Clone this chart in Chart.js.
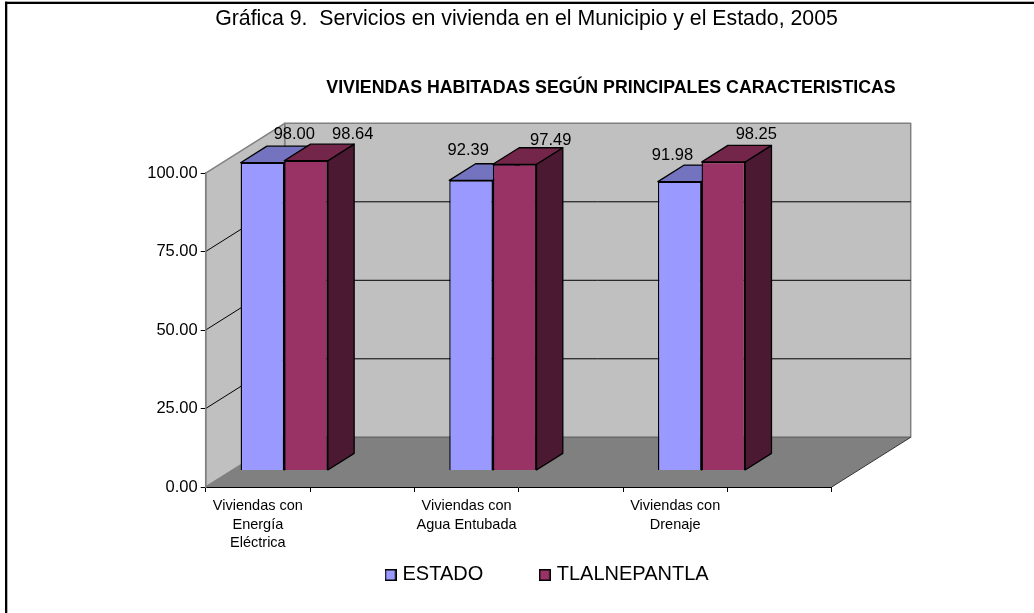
<!DOCTYPE html>
<html><head><meta charset="utf-8">
<style>html,body{margin:0;padding:0;background:#fff}canvas{display:block}</style>
<script src="https://cdn.jsdelivr.net/npm/chart.js@4"></script>
</head><body>
<div style="width:1034px;height:613px"><canvas id="c" width="1034" height="613"></canvas></div>
<script>
const categories = [["Viviendas con","Energía","Eléctrica"],"",["Viviendas con","Agua Entubada"],"",["Viviendas con","Drenaje"],""];
const estado = [98.00,null,92.39,null,91.98,null];
const tlalnepantla = [98.64,null,97.49,null,98.25,null];
const seriesNames = ["ESTADO","TLALNEPANTLA"];
const seriesColors = ["#9999FF","#993366"];
const titleText = "Gráfica 9.  Servicios en vivienda en el Municipio y el Estado, 2005";
const subtitleText = "VIVIENDAS HABITADAS SEGÚN PRINCIPALES CARACTERISTICAS";

const FONT = "'Liberation Sans', Arial, sans-serif";
const WALL_DX = 79, WALL_DY = -49.7;
const BAR_DX = WALL_DX/3, BAR_DY = WALL_DY/3;
// manual label placement, as in the original (offset from the bar's rear top edge)
const labelNudge = [
  [[5.6,-7.6],null,[-29.2,-8.5],null,[-33.6,-4.8],null],
  [[20.4,-5.6],null,[9.7,-3.2],null,[6.6,-5.9],null]
];
const faceColors = [
  {top:"#7373BF", side:"#4D4D80"},
  {top:"#732649", side:"#4C1933"}
];
function legendMarker(color){
  const m=document.createElement("canvas");m.width=12;m.height=14;
  const g=m.getContext("2d");
  g.fillStyle=color;g.fillRect(0,2,12,12);
  g.strokeStyle="#000";g.lineWidth=1.5;g.strokeRect(.75,2.75,10.5,10.5);
  return m;
}
const legendMarkers = seriesColors.map(legendMarker);
function poly(ctx,pts,fill,stroke,lw){
  ctx.beginPath();
  pts.forEach((p,i)=> i?ctx.lineTo(p[0],p[1]):ctx.moveTo(p[0],p[1]));
  ctx.closePath();
  if(fill){ctx.fillStyle=fill;ctx.fill();}
  if(stroke){ctx.strokeStyle=stroke;ctx.lineWidth=lw||1;ctx.lineJoin="round";ctx.stroke();}
}
const scene = {
  id:"scene",
  afterLayout(chart){
    chart.boxes.forEach(b=>{
      if(b.options && b.options.text===titleText){b.left=526.5-520;b.right=526.5+520;}
      if(b.options && b.options.text===subtitleText){b.left=611-420;b.right=611+420;}
    });
    const lg=chart.legend;
    if(lg){const p=lg.options.labels.padding;lg.left=388.5-p;lg.right=388.5-p+500;lg.top=574-10-p;}
  },
  beforeDraw(chart){
    const {ctx,scales:{x,y}}=chart;
    const L=x.left,R=x.right,B=y.getPixelForValue(0),T=y.getPixelForValue(100);
    ctx.save();
    ctx.fillStyle="#000";
    ctx.fillRect(5,1.7,1029,2.3);
    ctx.fillRect(5,1.7,2.3,611.3);
    const dx=WALL_DX,dy=WALL_DY;
    poly(ctx,[[L+dx,T+dy],[R+dx,T+dy],[R+dx,B+dy],[L+dx,B+dy]],"#C0C0C0","#808080",1.5);
    poly(ctx,[[L,T],[L+dx,T+dy],[L+dx,B+dy],[L,B]],"#C0C0C0","#808080",1.5);
    poly(ctx,[[L,B],[L+dx,B+dy],[R+dx,B+dy],[R,B]],"#808080",null);
    ctx.strokeStyle="#6a6a6a";ctx.lineWidth=1.2;
    ctx.beginPath();ctx.moveTo(L+dx,B+dy);ctx.lineTo(R+dx,B+dy);ctx.stroke();
    ctx.strokeStyle="#333";ctx.lineWidth=1;
    ctx.beginPath();ctx.moveTo(R,B);ctx.lineTo(R+dx,B+dy);ctx.stroke();
    ctx.strokeStyle="#000";ctx.lineWidth=1;
    y.ticks.forEach(t=>{
      if(t.value===0||t.value===100)return;
      const py=y.getPixelForValue(t.value);
      ctx.beginPath();ctx.moveTo(L,py);ctx.lineTo(L+dx,py+dy);ctx.lineTo(R+dx,py+dy);ctx.stroke();
    });
    ctx.restore();
  },
  beforeDatasetsDraw(chart){
    const ctx=chart.ctx,dx=BAR_DX,dy=BAR_DY;
    chart.data.datasets.forEach((ds,i)=>{
      const meta=chart.getDatasetMeta(i),c=faceColors[i];
      ctx.save();
      ctx.translate(dx,dy);
      meta.data.forEach((b,j)=>{
        if(ds.data[j]==null)return;
        const l=b.x-b.width/2,r=b.x+b.width/2,t=b.y,bt=b.base;
        poly(ctx,[[r,t],[r+dx,t+dy],[r+dx,bt+dy],[r,bt]],c.side,"#000",1.3);
        poly(ctx,[[l,t],[l+dx,t+dy],[r+dx,t+dy],[r,t]],c.top,"#000",1.3);
      });
      meta.controller.draw();
      ctx.restore();
    });
    return false;
  },
  afterDraw(chart){
    const ctx=chart.ctx;
    ctx.save();
    ctx.font="16.5px "+FONT;ctx.fillStyle="#000";ctx.textAlign="center";ctx.textBaseline="alphabetic";
    chart.data.datasets.forEach((ds,i)=>{
      chart.getDatasetMeta(i).data.forEach((b,j)=>{
        const v=ds.data[j];
        if(v==null)return;
        const n=labelNudge[i][j];
        ctx.fillText(v.toFixed(2),b.x+2*BAR_DX+n[0],b.y+2*BAR_DY+n[1]);
      });
    });
    ctx.restore();
  }
};
new Chart(document.getElementById("c"),{
  type:"bar",
  data:{labels:categories,datasets:[
    {label:seriesNames[0],data:estado,backgroundColor:seriesColors[0],borderColor:"#000",borderWidth:1.4},
    {label:seriesNames[1],data:tlalnepantla,backgroundColor:seriesColors[1],borderColor:"#000",borderWidth:1.4}
  ]},
  options:{
    responsive:false,animation:false,
    layout:{padding:{left:0,right:1034-831.7,top:0,bottom:0}},
    datasets:{bar:{categoryPercentage:0.836,barPercentage:1}},
    plugins:{
      title:{display:true,text:titleText,color:"#000",font:{family:FONT,size:21.3,weight:"normal",lineHeight:1.2},padding:{top:6.2,bottom:0}},
      subtitle:{display:true,text:subtitleText,color:"#000",font:{family:FONT,size:17.75,weight:"bold",lineHeight:1.2},padding:{top:45.8,bottom:74.15}},
      legend:{display:true,position:"bottom",align:"start",maxHeight:30,labels:{font:{family:FONT,size:20},color:"#000",usePointStyle:true,pointStyleWidth:4,boxHeight:12,padding:59.5,
        generateLabels:c=>c.data.datasets.map((d,i)=>({text:d.label,pointStyle:legendMarkers[i],datasetIndex:i,fontColor:"#000",lineWidth:0,hidden:false}))}},
      tooltip:{enabled:false}
    },
    scales:{
      x:{type:"category",offset:true,
        grid:{offset:true,drawOnChartArea:false,drawTicks:true,tickLength:5,tickColor:"#000",lineWidth:1},
        border:{display:true,color:"#000",width:1},
        ticks:{autoSkip:false,maxRotation:0,minRotation:0,color:"#000",padding:4.6,font:{family:FONT,size:14.5,lineHeight:1.29}},
        afterFit(s){s.height=96;}
      },
      y:{type:"linear",min:0,max:100,
        grid:{drawOnChartArea:false,tickLength:5,tickColor:"#000",lineWidth:1},
        border:{display:true,color:"#808080",width:1.5},
        ticks:{stepSize:25,color:"#000",padding:3,font:{family:FONT,size:16.5},callback:v=>v.toFixed(2)},
        afterFit(s){s.width=205.7;}
      }
    }
  },
  plugins:[scene]
});
</script>
</body></html>
